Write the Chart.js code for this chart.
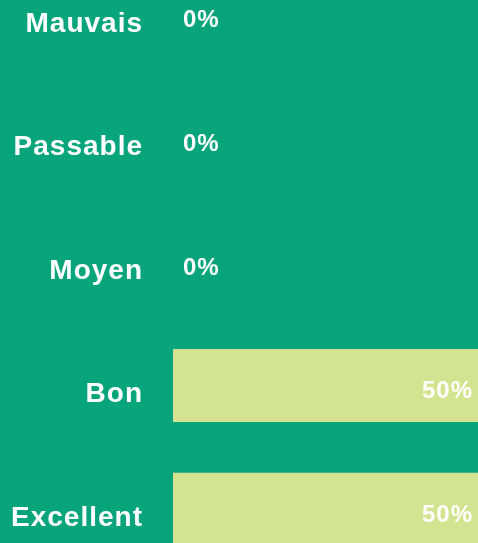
<!DOCTYPE html>
<html>
<head>
<meta charset="utf-8">
<script src="https://cdn.jsdelivr.net/npm/chart.js@4/dist/chart.umd.min.js"></script>
<style>
  html, body { margin: 0; padding: 0; width: 478px; height: 543px; overflow: hidden; background: #08A57C; }
  #c { position: absolute; left: 0; top: -47px; }
</style>
</head>
<body>
<canvas id="c" width="478" height="618"></canvas>
<script>
const categories = ['Mauvais', 'Passable', 'Moyen', 'Bon', 'Excellent'];
const values = [0, 0, 0, 50, 50];
const valueLabels = ['0%', '0%', '0%', '50%', '50%'];
const axisMax = 50;

const spacingPlugin = {
  id: 'spacing',
  beforeDraw(chart) { chart.ctx.letterSpacing = '1px'; }
};

const valueLabelPlugin = {
  id: 'valueLabels',
  afterDatasetsDraw(chart) {
    const ctx = chart.ctx;
    const meta = chart.getDatasetMeta(0);
    ctx.save();
    ctx.font = 'bold 24px "Liberation Sans", Arial, sans-serif';
    ctx.fillStyle = '#ffffff';
    ctx.textBaseline = 'middle';
    meta.data.forEach((bar, i) => {
      const v = values[i];
      if (v === 0) {
        ctx.textAlign = 'left';
        ctx.fillText(valueLabels[i], bar.base + 10, bar.y + 6);
      } else {
        ctx.textAlign = 'right';
        ctx.fillText(valueLabels[i], bar.x - 5, bar.y + 6);
      }
    });
    ctx.restore();
  }
};

new Chart(document.getElementById('c'), {
  type: 'bar',
  data: {
    labels: categories,
    datasets: [{
      data: values,
      backgroundColor: '#D2E48F',
      borderWidth: 0,
      inflateAmount: 0,
      barThickness: 73
    }]
  },
  options: {
    indexAxis: 'y',
    responsive: false,
    maintainAspectRatio: false,
    animation: false,
    devicePixelRatio: 1,
    layout: { padding: 0 },
    plugins: { legend: { display: false }, tooltip: { enabled: false } },
    scales: {
      x: { display: false, min: 0, max: axisMax },
      y: {
        grid: { display: false, drawTicks: false },
        border: { display: false },
        afterFit(scale) {
          scale.width = 173;
          scale.paddingTop = 0;
          scale.paddingBottom = 0;
        },
        ticks: {
          color: '#ffffff',
          padding: 30,
          labelOffset: 9,
          font: { family: '"Liberation Sans", Arial, sans-serif', weight: 'bold', size: 28 }
        }
      }
    }
  },
  plugins: [spacingPlugin, valueLabelPlugin]
});
</script>
</body>
</html>
